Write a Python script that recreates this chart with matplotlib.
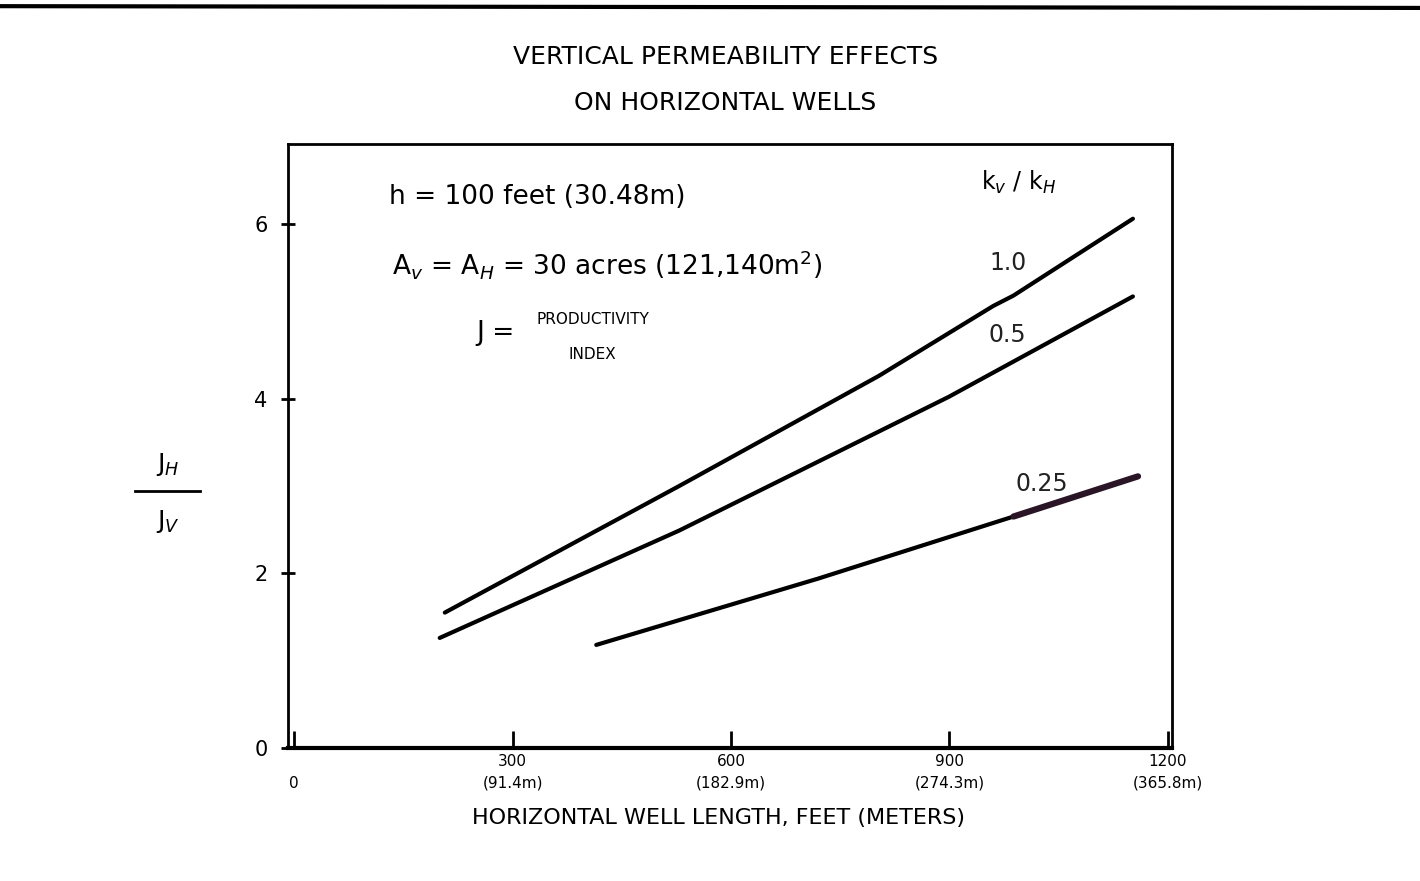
import matplotlib.pyplot as plt
from matplotlib.lines import Line2D

# values (feet, J_H / J_V)
x_k10 = [207, 529, 803, 960, 988, 1152]
y_k10 = [1.55, 3.0, 4.26, 5.06, 5.18, 6.06]
x_k05 = [200, 529, 899, 1152]
y_k05 = [1.26, 2.49, 4.02, 5.17]
x_k025 = [415, 720, 988]
y_k025 = [1.18, 1.94, 2.65]
x_k025_end = [988, 1159]
y_k025_end = [2.65, 3.11]

xticks = [0, 300, 600, 900, 1200]
xtick_labels = ["\n0", "300\n(91.4m)", "600\n(182.9m)", "900\n(274.3m)", "1200\n(365.8m)"]
yticks = [0, 2, 4, 6]
ratio_labels = ["1.0", "0.5", "0.25"]

plt.rcParams['font.family'] = ['DejaVu Sans']

fig = plt.figure(figsize=(14.2, 8.81), dpi=100)
ax = fig.add_axes([0.203, 0.151, 0.622, 0.685])

ax.plot(x_k10, y_k10, color="black", lw=3, solid_capstyle="round")
ax.plot(x_k05, y_k05, color="black", lw=3, solid_capstyle="round")
ax.plot(x_k025, y_k025, color="black", lw=3, solid_capstyle="round")
ax.plot(x_k025_end, y_k025_end, color="#2a1526", lw=4.5, solid_capstyle="round")

ax.set_xlim(-8, 1205)
ax.set_ylim(0, 6.91)
ax.set_xticks(xticks)
ax.set_xticklabels(xtick_labels, fontsize=11, linespacing=1.6)
ax.set_yticks(yticks)
ax.set_yticklabels([str(v) for v in yticks], fontsize=15)
ax.tick_params(axis="x", direction="in", length=12, width=2, pad=4)
ax.tick_params(axis="y", direction="inout", length=10, width=2, pad=10)
for sp in ax.spines.values():
    sp.set_linewidth(2)
ax.spines["bottom"].set_linewidth(3)

# annotations inside the plot
ax.text(130, 6.31, "h = 100 feet (30.48m)", fontsize=19, va="center")
ax.text(135, 5.54, r"A$_v$ = A$_H$ = 30 acres (121,140m$^2$)", fontsize=19,
        va="center")
ax.text(250, 4.75, "J =", fontsize=19, va="center")
ax.text(410, 4.91, "PRODUCTIVITY", fontsize=11, va="center", ha="center")
ax.text(410, 4.5, "INDEX", fontsize=11, va="center", ha="center")

ax.text(995, 6.48, r"k$_v$ / k$_H$", fontsize=17, va="center", ha="center")
label_pos = [(980, 5.55), (980, 4.73), (1027, 3.02)]
for lab, (lx, ly) in zip(ratio_labels, label_pos):
    ax.text(lx, ly, lab, fontsize=17, va="center", ha="center", color="#222222")

# title
fig.text(0.511, 0.935, "VERTICAL PERMEABILITY EFFECTS", ha="center", va="center",
         fontsize=18)
fig.text(0.511, 0.883, "ON HORIZONTAL WELLS", ha="center", va="center",
         fontsize=18)

# axis labels
fig.text(0.506, 0.071, "HORIZONTAL WELL LENGTH, FEET (METERS)", ha="center",
         va="center", fontsize=16)
fig.text(0.118, 0.473, r"J$_H$", ha="center", va="center", fontsize=18)
fig.text(0.118, 0.408, r"J$_V$", ha="center", va="center", fontsize=18)
fig.add_artist(Line2D([0.095, 0.141], [0.443, 0.443], color="black", lw=2))

# scan border line across the top
fig.add_artist(Line2D([0.0, 1.0], [0.993, 0.991], color="black", lw=3))

fig.savefig("out.png", dpi=100)
